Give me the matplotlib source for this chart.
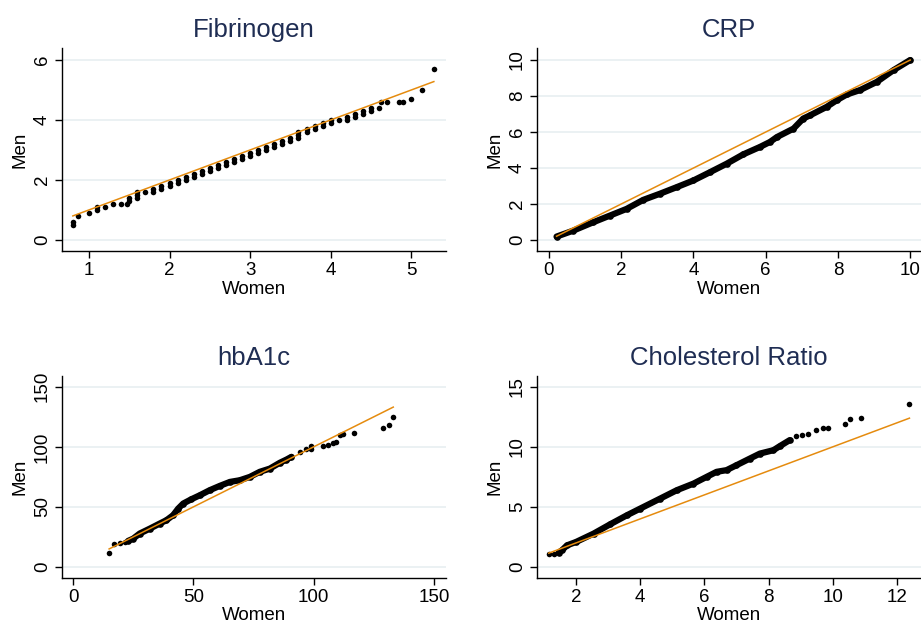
import matplotlib
matplotlib.use("Agg")
import matplotlib.pyplot as plt

plt.rcParams["font.family"] = ["Liberation Sans", "DejaVu Sans"]

# ---- DATA (quantile pairs) ----
# Fibrinogen: values are recorded to 0.1, so quantiles stack up
fib_women = [0.8, 0.8, 0.86, 1.0, 1.1, 1.1, 1.2, 1.3, 1.4, 1.47, 1.5, 1.5,
             1.6, 1.6, 1.6, 1.7, 1.8, 1.8, 1.9, 1.9, 2.0, 2.0, 2.1, 2.1,
             2.2, 2.2, 2.3, 2.3, 2.4, 2.4, 2.5, 2.5, 2.6, 2.6, 2.7, 2.7,
             2.8, 2.8, 2.9, 2.9, 3.0, 3.0, 3.1, 3.1, 3.2, 3.2, 3.3, 3.3,
             3.4, 3.4, 3.5, 3.5, 3.6, 3.6, 3.6, 3.7, 3.7, 3.8, 3.8, 3.9,
             3.9, 4.0, 4.0, 4.1, 4.2, 4.2, 4.3, 4.3, 4.4, 4.4, 4.5, 4.5,
             4.6, 4.62, 4.7, 4.85, 4.9, 5.0, 5.13, 5.28]
fib_men = [0.5, 0.6, 0.8, 0.9, 1.0, 1.1, 1.1, 1.2, 1.2, 1.2, 1.3, 1.4,
           1.4, 1.5, 1.6, 1.6, 1.6, 1.7, 1.7, 1.8, 1.8, 1.9, 1.9, 2.0,
           2.0, 2.1, 2.1, 2.2, 2.2, 2.3, 2.3, 2.4, 2.4, 2.5, 2.5, 2.6,
           2.6, 2.7, 2.7, 2.8, 2.8, 2.9, 2.9, 3.0, 3.0, 3.1, 3.1, 3.2,
           3.2, 3.3, 3.3, 3.4, 3.4, 3.5, 3.6, 3.6, 3.7, 3.7, 3.8, 3.8,
           3.9, 3.9, 4.0, 4.0, 4.0, 4.1, 4.1, 4.2, 4.2, 4.3, 4.3, 4.4,
           4.4, 4.6, 4.6, 4.6, 4.6, 4.7, 5.0, 5.7]

# CRP: one dense run of quantiles
crp_women = [0.21, 0.67, 1.23, 1.69, 2.15, 2.61, 3.07, 3.54, 4.0, 4.46, 4.92,
             5.38, 5.84, 6.12, 6.31, 6.77, 7.04, 7.23, 7.69, 7.97, 8.25,
             8.61, 9.08, 9.54, 10.0]
crp_men = [0.19, 0.52, 0.99, 1.36, 1.73, 2.23, 2.57, 2.94, 3.31, 3.77, 4.24,
           4.76, 5.17, 5.45, 5.72, 6.19, 6.75, 6.93, 7.40, 7.77, 8.09,
           8.33, 8.79, 9.44, 10.0]

# hbA1c: sparse low tail, dense body, sparse high tail
hba_women_low = [15.0, 17.1, 19.7, 21.5]
hba_men_low = [11.7, 18.9, 20.3, 20.8]
hba_women_body = [22.9, 25.0, 27.7, 31.9, 36.0, 38.8, 41.6, 43.7, 45.8, 49.2,
                  52.7, 56.8, 61.0, 65.2, 69.3, 73.5, 77.6, 81.8, 85.9, 88.7,
                  90.8]
hba_men_body = [21.7, 23.6, 27.8, 31.9, 36.1, 38.9, 43.1, 48.6, 52.8, 56.4,
                59.7, 63.9, 67.5, 70.8, 72.2, 75.0, 79.2, 81.9, 86.7, 89.4,
                91.7]
hba_women_high = [94.3, 96.8, 98.7, 99.1, 104.0, 106.0, 108.0, 109.5, 111.0,
                  112.3, 116.7, 129.0, 131.3, 133.1]
hba_men_high = [95.8, 97.8, 98.6, 100.6, 100.6, 101.4, 102.8, 103.9, 109.7,
                110.6, 111.7, 115.8, 118.6, 124.7]

# Cholesterol ratio
chol_women_low = [1.15, 1.31]
chol_men_low = [1.11, 1.10]
chol_women_body = [1.46, 1.56, 1.72, 2.0, 2.55, 3.07, 3.59, 4.0, 4.62, 5.14,
                   5.66, 6.07, 6.38, 6.69, 7.0, 7.42, 7.73, 8.15, 8.35, 8.66]
chol_men_body = [1.2, 1.39, 1.8, 2.08, 2.78, 3.56, 4.31, 4.86, 5.69, 6.39,
                 6.94, 7.5, 7.92, 8.06, 8.47, 9.03, 9.44, 9.72, 10.06, 10.56]
chol_women_high = [8.87, 9.03, 9.23, 9.47, 9.7, 9.85, 10.39, 10.53, 10.89,
                   12.39]
chol_men_high = [10.9, 11.0, 11.1, 11.39, 11.53, 11.6, 11.94, 12.3, 12.44,
                 13.6]

TITLE_COL = "#1f2d53"
REF_COL = "#e58b0e"
GRID_COL = "#e8eff1"

fig = plt.figure(figsize=(9.21, 6.25), dpi=100)

axes_pos = [
    [0.0673, 0.5984, 0.4169, 0.3248],
    [0.5831, 0.5984, 0.4169, 0.3248],
    [0.0673, 0.0752, 0.4169, 0.3232],
    [0.5831, 0.0752, 0.4169, 0.3232],
]


def style_axes(ax, title, xticks, yticks, xlim, ylim):
    ax.set_xlim(xlim)
    ax.set_ylim(ylim)
    ax.set_xticks(xticks)
    ax.set_yticks(yticks)
    ax.set_yticklabels([str(t) for t in yticks], rotation=90, va="center")
    for s in ["top", "right"]:
        ax.spines[s].set_visible(False)
    for s in ["left", "bottom"]:
        ax.spines[s].set_linewidth(1.0)
    ax.tick_params(direction="out", length=5, width=1, labelsize=13.5, pad=3)
    ax.yaxis.grid(True, color=GRID_COL, linewidth=1.2)
    ax.set_axisbelow(True)
    ax.set_title(title, fontsize=18.5, color=TITLE_COL, pad=8)
    ax.set_xlabel("Women", fontsize=13.5, labelpad=1)
    ax.set_ylabel("Men", fontsize=13.5, labelpad=4)


def ref_line(ax, women):
    lo, hi = min(women), max(women)
    ax.plot([lo, hi], [lo, hi], color=REF_COL, linewidth=1.1, zorder=3)


def dots(ax, x, y):
    ax.plot(x, y, "o", color="black", markersize=4.0, markeredgewidth=0, zorder=2)


def dense(ax, x, y):
    ax.plot(x, y, "-o", color="black", linewidth=4.5, markersize=4.8,
            markeredgewidth=0, solid_capstyle="round", zorder=2)


# ---- Fibrinogen ----
ax1 = fig.add_axes(axes_pos[0])
dots(ax1, fib_women, fib_men)
ref_line(ax1, fib_women)
style_axes(ax1, "Fibrinogen", [1, 2, 3, 4, 5], [0, 2, 4, 6],
           (0.665, 5.43), (-0.37, 6.4))

# ---- CRP ----
ax2 = fig.add_axes(axes_pos[1])
dense(ax2, crp_women, crp_men)
ref_line(ax2, crp_women)
style_axes(ax2, "CRP", [0, 2, 4, 6, 8, 10], [0, 2, 4, 6, 8, 10],
           (-0.33, 10.3), (-0.61, 10.67))

# ---- hbA1c ----
ax3 = fig.add_axes(axes_pos[2])
dots(ax3, hba_women_low, hba_men_low)
dense(ax3, hba_women_body, hba_men_body)
dots(ax3, hba_women_high, hba_men_high)
ref_line(ax3, hba_women_low + hba_women_body + hba_women_high)
style_axes(ax3, "hbA1c", [0, 50, 100, 150], [0, 50, 100, 150],
           (-4.6, 155), (-9.2, 159))

# ---- Cholesterol Ratio ----
ax4 = fig.add_axes(axes_pos[3])
dots(ax4, chol_women_low, chol_men_low)
dense(ax4, chol_women_body, chol_men_body)
dots(ax4, chol_women_high, chol_men_high)
ref_line(ax4, chol_women_low + chol_women_body + chol_women_high)
style_axes(ax4, "Cholesterol Ratio", [2, 4, 6, 8, 10, 12], [0, 5, 10, 15],
           (0.785, 12.75), (-0.92, 15.9))

fig.savefig("out.png", dpi=100)
